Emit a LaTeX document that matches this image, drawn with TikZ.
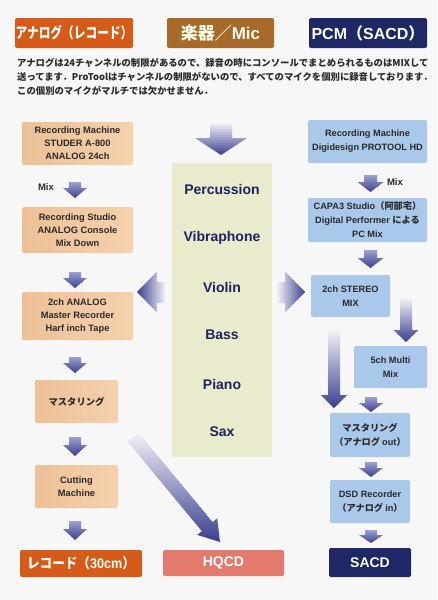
\documentclass[tikz,border=0pt]{standalone}
\usepackage{fontspec}
\setmainfont{Liberation Sans}
\newfontfamily\jp{Noto Sans CJK JP}
\definecolor{bgc}{HTML}{F7F7F7}
\definecolor{hOrange}{HTML}{D65A18}
\definecolor{hBrown}{HTML}{A86A2A}
\definecolor{hNavy}{HTML}{1E2864}
\definecolor{peach}{HTML}{F5D1AD}
\definecolor{peachD}{HTML}{EDC096}
\definecolor{skyb}{HTML}{A9C8EA}
\definecolor{skybD}{HTML}{9ABDE3}
\definecolor{colY}{HTML}{EAEACD}
\definecolor{hq}{HTML}{E27A6E}
\definecolor{arD}{HTML}{3A3F8E}
\definecolor{arM}{HTML}{9CA0D2}
\definecolor{arL}{HTML}{F2F2F8}
\definecolor{insT}{HTML}{1C2460}
\definecolor{txt}{HTML}{2A2A2A}
\newcommand\dnarr[7]{%
  \path[#7] (#1-#4/2,#2) -- (#1+#4/2,#2) -- (#1+#4/2,#3-#6) -- (#1+#5/2,#3-#6)
    -- (#1,#3) -- (#1-#5/2,#3-#6) -- (#1-#4/2,#3-#6) -- cycle;}
\begin{document}
\begin{tikzpicture}[x=1pt,y=-1pt,
  hdr/.style={rounded corners=2pt, text=white, inner sep=0pt, font=\bfseries\fontsize{15}{17}\selectfont},
  lbox/.style={rounded corners=2pt, left color=peachD, right color=peach, text=txt, align=center, inner sep=0pt, font=\bfseries\fontsize{9.3}{13}\selectfont},
  rbox/.style={rounded corners=2pt, fill=skyb, text=txt, align=center, inner sep=0pt, font=\bfseries\fontsize{9.2}{14}\selectfont},
  endbox/.style={rounded corners=2pt, text=white, inner sep=0pt, font=\bfseries\fontsize{14}{16}\selectfont},
  ins/.style={text=insT, font=\bfseries\fontsize{14}{16}\selectfont},
  body/.style={anchor=west, inner sep=0pt, text=txt, font=\jp\bfseries\fontsize{9.35}{11}\selectfont},
  mixl/.style={text=txt, inner sep=0pt, font=\bfseries\fontsize{9.5}{11}\selectfont},
  smallarr/.style={top color=arM, bottom color=arD},
  longarr/.style={top color=arL, bottom color=arD}]
\fill[bgc] (0,0) rectangle (437,600);
\useasboundingbox (0,0) rectangle (437,600);

% headers
\node[hdr, fill=hOrange, minimum width=118pt, minimum height=30pt] (h1) at (74,33) {\scalebox{0.78}[1]{\jp\bfseries アナログ（レコード）}};
\node[hdr, fill=hBrown, minimum width=107pt, minimum height=30pt, text=white!92!yellow, font=\bfseries\fontsize{17}{19}\selectfont] (h2) at (220.5,33) {{\jp\bfseries 楽器／}Mic};
\node[hdr, fill=hNavy, minimum width=118pt, minimum height=30pt, font=\bfseries\fontsize{16}{18}\selectfont] (h3) at (368,33) {PCM{\jp\bfseries （}SACD{\jp\bfseries ）}};

% body text
\node[body] (t1) at (17,63) {アナログは24チャンネルの制限があるので、録音の時にコンソールでまとめられるものはMIXして};
\node[body] (t2) at (17,77) {送ってます．ProToolはチャンネルの制限がないので、すべてのマイクを個別に録音しております．};
\node[body] (t3) at (17,91) {この個別のマイクがマルチでは欠かせません．};

% left column
\node[lbox, minimum width=111pt, minimum height=43pt] (L1) at (77.5,143.5) {Recording Machine\\STUDER A-800\\ANALOG 24ch};
\node[lbox, minimum width=111pt, minimum height=46pt] (L2) at (77.5,230) {Recording Studio\\ANALOG Console\\Mix Down};
\node[lbox, minimum width=111pt, minimum height=48pt] (L3) at (77.5,316) {2ch ANALOG\\Master Recorder\\Harf inch Tape};
\node[lbox, minimum width=83pt, minimum height=43pt] (L4) at (76.5,401.5) {{\jp\bfseries マスタリング}};
\node[lbox, minimum width=83pt, minimum height=43pt] (L5) at (76.5,486.5) {Cutting\\Machine};
\node[endbox, fill=hOrange, minimum width=122pt, minimum height=27pt] (LR) at (81,563.5) {\scalebox{0.9}[1]{{\jp\bfseries レコード（}30cm{\jp\bfseries ）}}};
\node[mixl] (mixL) at (46,187) {Mix};

% middle column
\node[fill=colY, minimum width=100pt, minimum height=294pt, inner sep=0pt] (M) at (222,310) {};
\node[ins] (p1) at (222,189) {Percussion};
\node[ins] (p2) at (222,238) {Vibraphone};
\node[ins] (p3) at (222,287) {Violin};
\node[ins] (p4) at (222,335) {Bass};
\node[ins] (p5) at (222,384) {Piano};
\node[ins] (p6) at (222,432) {Sax};
\node[endbox, fill=hq, minimum width=121pt, minimum height=26pt] (HQ) at (223.5,563) {HQCD};

% right column
\node[rbox, minimum width=119pt, minimum height=43pt] (R1) at (367.5,141.5) {Recording Machine\\Digidesign PROTOOL HD};
\node[rbox, minimum width=119pt, minimum height=44pt] (R2) at (367.5,220) {CAPA3 Studio{\jp\bfseries （阿部宅）}\\Digital Performer {\jp\bfseries による}\\PC Mix};
\node[rbox, minimum width=79pt, minimum height=42pt] (R3) at (350.5,296) {2ch STEREO\\MIX};
\node[rbox, minimum width=73pt, minimum height=42pt] (R4) at (390.5,367) {5ch Multi\\Mix};
\node[rbox, minimum width=80pt, minimum height=44pt] (R5) at (370,435) {{\jp\bfseries マスタリング}\\{\jp\bfseries （アナログ }out{\jp\bfseries ）}};
\node[rbox, minimum width=80pt, minimum height=43pt] (R6) at (370,501.5) {DSD Recorder\\{\jp\bfseries （アナログ }in{\jp\bfseries ）}};
\node[endbox, fill=hNavy, minimum width=82pt, minimum height=29pt] (SA) at (370,562.5) {SACD};
\node[mixl] (mixR) at (395,182) {Mix};

% left arrows
\dnarr{75}{182}{198}{12}{24}{10}{smallarr}
\dnarr{75}{272}{288}{12}{24}{10}{smallarr}
\dnarr{75}{357}{373}{12}{24}{10}{smallarr}
\dnarr{75}{437}{456}{12}{24}{11}{smallarr}
\dnarr{75}{521}{540}{12}{24}{11}{smallarr}

% right arrows
\dnarr{370.5}{175}{192}{13}{26}{10}{smallarr}
\dnarr{370.5}{250}{268}{13}{26}{10}{smallarr}
\dnarr{371}{397}{412}{12}{24}{9}{smallarr}
\dnarr{371}{462}{477}{12}{24}{9}{smallarr}
\dnarr{371}{530}{543}{12}{24}{8}{smallarr}
\dnarr{406}{298}{342}{12}{25}{12}{longarr}
\dnarr{334}{330}{408}{12}{26}{13}{longarr}

% middle arrows
\dnarr{221}{123}{155}{22}{52}{17}{longarr}
\path[left color=arD, right color=arL] (137,292) -- (157,271.5) -- (157,282) -- (165,282) -- (165,303) -- (157,303) -- (157,312.5) -- cycle;
\path[left color=arL, right color=arD] (305,292) -- (285,271.5) -- (285,282) -- (277,282) -- (277,303) -- (285,303) -- (285,312.5) -- cycle;
\path[top color=arL, bottom color=arD] (127.6,441.5) -- (138.4,432.5) -- (212.6,522.1) -- (217.2,518.3) -- (220,542) -- (197.2,534.9) -- (201.8,531.1) -- cycle;
\end{tikzpicture}
\end{document}
